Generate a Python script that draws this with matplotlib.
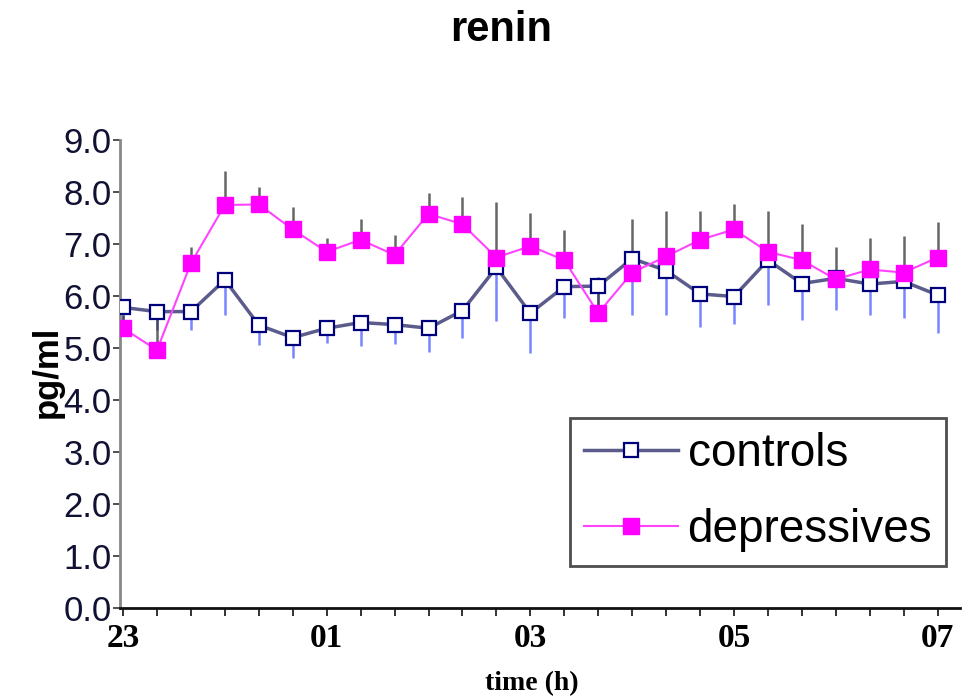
import numpy as np
import matplotlib
matplotlib.use("Agg")
import matplotlib.pyplot as plt

# minutes after 23:00, one sample every 20 min
minutes = [0, 20, 40, 60, 80, 100, 120, 140, 160, 180, 200, 220, 240,
           260, 280, 300, 320, 340, 360, 380, 400, 420, 440, 460, 480]

controls = [5.78, 5.70, 5.70, 6.31, 5.44, 5.20, 5.38, 5.49, 5.45, 5.38, 5.72, 6.55, 5.67,
            6.18, 6.19, 6.72, 6.49, 6.04, 5.99, 6.69, 6.24, 6.34, 6.23, 6.28, 6.02]
controls_err = [0.30, 0.35, 0.35, 0.68, 0.38, 0.40, 0.29, 0.46, 0.37, 0.45, 0.53, 1.04, 0.76,
                0.61, 0.50, 1.09, 0.86, 0.63, 0.52, 0.86, 0.71, 0.61, 0.60, 0.71, 0.73]

depressives = [5.38, 4.96, 6.63, 7.75, 7.76, 7.28, 6.85, 7.08, 6.79, 7.58, 7.38, 6.74, 6.96,
               6.69, 5.67, 6.45, 6.76, 7.08, 7.28, 6.85, 6.69, 6.32, 6.51, 6.45, 6.74]
depressives_err = [0.25, 0.62, 0.32, 0.66, 0.33, 0.43, 0.26, 0.41, 0.38, 0.40, 0.53, 1.07, 0.63,
                   0.58, 0.70, 1.04, 0.88, 0.56, 0.49, 0.79, 0.69, 0.63, 0.60, 0.70, 0.69]

xtick_labels = ["23", "01", "03", "05", "07"]
ytick_vals = [0, 1, 2, 3, 4, 5, 6, 7, 8, 9]

hours = np.array(minutes) / 60.0
zeros = np.zeros(len(minutes))

fig = plt.figure(figsize=(9.64, 7.0), dpi=100)
ax = fig.add_axes([120 / 964, 92 / 700, 840 / 964, 468 / 700])

# error bars: controls downward, depressives upward
ax.errorbar(hours, controls, yerr=[controls_err, zeros], fmt="none",
            ecolor="#4a5cff", elinewidth=1.8, capsize=0, alpha=0.75, zorder=2)
ax.errorbar(hours, depressives, yerr=[zeros, depressives_err], fmt="none",
            ecolor="#333333", elinewidth=1.8, capsize=0, alpha=0.75, zorder=2)

ax.plot(hours, controls, color="#5c5c8c", lw=2.5, marker="s", ms=10.5,
        mfc="white", mec="#00007f", mew=1.6, label="controls", zorder=3)
ax.plot(hours, depressives, color="#ff44ff", lw=1.5, marker="s", ms=11,
        mfc="#ff00ff", mec="#ff00ff", label="depressives", zorder=4)

ax.set_xlim(-0.03, 8.22)
ax.set_ylim(0, 9)

ax.set_xticks(hours, minor=True)
ax.set_xticks([0, 2, 4, 6, 8])
ax.set_xticklabels(xtick_labels, family="Liberation Serif", weight="bold", fontsize=24)
ax.tick_params(axis="x", which="both", length=6, width=1.3, color="#222222", pad=5)

ax.set_yticks(ytick_vals)
ax.set_yticklabels(["%.1f" % v for v in ytick_vals], family="Liberation Sans", fontsize=25,
                   color="#111133")
ax.tick_params(axis="y", length=5, width=1.2, color="#333333", pad=1)

for s in ["top", "right"]:
    ax.spines[s].set_visible(False)
ax.spines["left"].set_color("#888888")
ax.spines["left"].set_linewidth(2)
ax.spines["bottom"].set_color("#111111")
ax.spines["bottom"].set_linewidth(2)

leg = ax.legend(loc="lower right", bbox_to_anchor=(946 / 964, 134 / 700),
                bbox_transform=fig.transFigure, prop={"family": "Liberation Sans", "size": 33},
                frameon=True, fancybox=False, edgecolor="#222222", handlelength=2.05,
                handletextpad=0.22, labelspacing=0.7, borderpad=0.3, borderaxespad=0)
leg.get_frame().set_linewidth(2)

fig.text(501 / 964, 1 - 30 / 700, "renin", ha="center", va="center",
         family="Liberation Sans", weight="bold", fontsize=30)
fig.text(47 / 964, 1 - 372 / 700, "pg/ml", ha="center", va="center", rotation=90,
         family="Liberation Sans", weight="bold", fontsize=25)
fig.text(532 / 964, 1 - 684 / 700, "time (h)", ha="center", va="center",
         family="Liberation Serif", weight="bold", fontsize=20)

fig.savefig("out.png", dpi=100)
